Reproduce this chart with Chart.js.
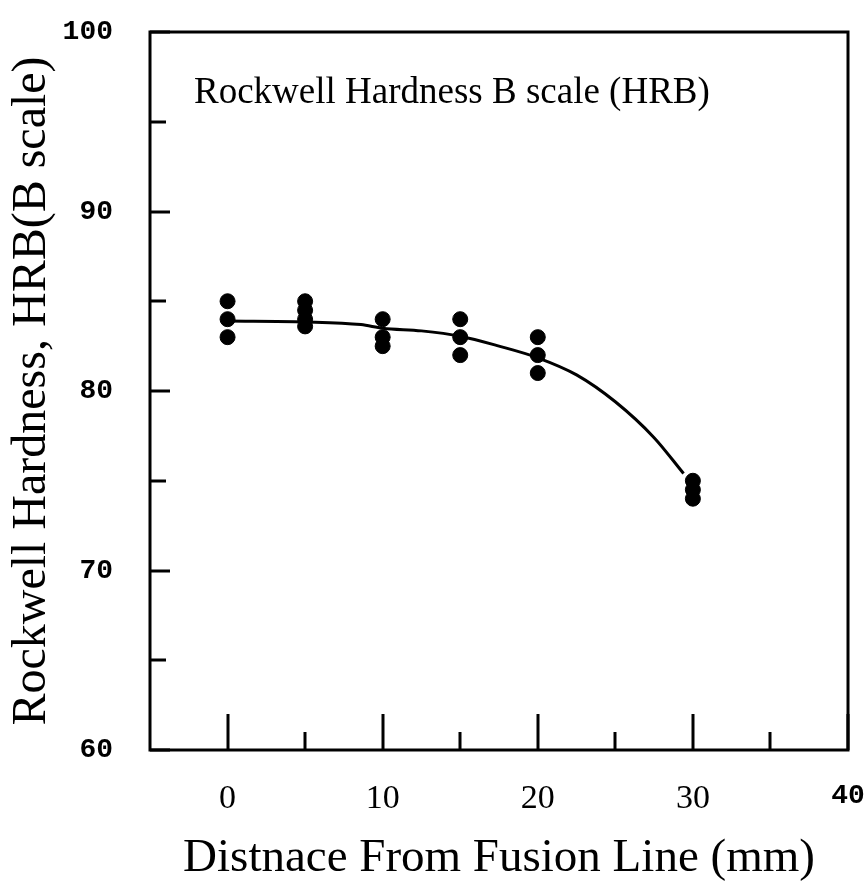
<!DOCTYPE html>
<html>
<head>
<meta charset="utf-8">
<title>Rockwell Hardness vs Distance</title>
<script src="https://cdn.jsdelivr.net/npm/chart.js@4.4.1/dist/chart.umd.min.js"></script>
<style>
  html, body { margin: 0; padding: 0; background: #fff; }
</style>
</head>
<body>
<canvas id="hardnessChart" width="865" height="882"></canvas>
<script>
// ---- data ----
const distances = [0, 5, 10, 15, 20, 30];           // mm from fusion line
const readings = [
    [85, 84, 83],          // 0 mm
    [85, 84.5, 84, 83.6],  // 5 mm
    [84, 83, 82.5],        // 10 mm
    [84, 83, 82],          // 15 mm
    [83, 82, 81],          // 20 mm
    [75, 74.5, 74]         // 30 mm
];

// hand-drawn trend line
const trendX = [0, 5, 8.6, 10, 12.5, 15, 17.5, 20, 22.5, 25, 27.5, 29.4];
const trendY = [83.9, 83.85, 83.7, 83.5, 83.35, 83.05, 82.5, 81.85, 80.9, 79.4, 77.4, 75.4];

// axis ticks
const xTickLabels = [0, 10, 20, 30, 40];
const xMinorTicks = [5, 15, 25, 35];
const yTickLabels = [60, 70, 80, 90, 100];
const yMinorTicks = [65, 75, 85, 95];

const annotationText = 'Rockwell Hardness B scale (HRB)';

const points = [];
distances.forEach((d, i) => {
    readings[i].forEach(v => points.push({ x: d, y: v }));
});
const trend = trendX.map((x, i) => ({ x: x, y: trendY[i] }));

/**
 * Box frame, inward ticks and the in-plot caption
 */
const framePlugin = {
    id: 'frame',
    afterDraw(chart) {
        const { ctx, chartArea: a, scales } = chart;
        ctx.save();
        ctx.strokeStyle = '#000';
        ctx.lineWidth = 3;
        ctx.strokeRect(a.left, a.top, a.right - a.left, a.bottom - a.top);

        // ticks pointing into the plot
        ctx.beginPath();
        xTickLabels.concat(xMinorTicks).forEach(v => {
            const len = xTickLabels.includes(v) ? 36 : 18;
            const px = Math.round(scales.x.getPixelForValue(v));
            ctx.moveTo(px, a.bottom);
            ctx.lineTo(px, a.bottom - len);
        });
        yTickLabels.concat(yMinorTicks).forEach(v => {
            const len = yTickLabels.includes(v) ? 20 : 16;
            const py = Math.round(scales.y.getPixelForValue(v));
            ctx.moveTo(a.left, py);
            ctx.lineTo(a.left + len, py);
        });
        ctx.stroke();

        // caption inside the plot
        ctx.fillStyle = '#000';
        ctx.font = '37px "Liberation Serif", serif';
        ctx.textBaseline = 'alphabetic';
        ctx.fillText(annotationText, a.left + 44, a.top + 71);
        ctx.restore();
    }
};

function initializeChart() {
    const ctx = document.getElementById('hardnessChart').getContext('2d');
    new Chart(ctx, {
        type: 'scatter',
        data: {
            datasets: [
                {
                    label: 'Trend',
                    data: trend,
                    showLine: true,
                    borderColor: '#000',
                    borderWidth: 3,
                    pointRadius: 0,
                    cubicInterpolationMode: 'monotone'
                },
                {
                    label: 'HRB',
                    data: points,
                    backgroundColor: '#000',
                    borderColor: '#000',
                    pointRadius: 7.5,
                    showLine: false
                }
            ]
        },
        options: {
            responsive: false,
            animation: false,
            layout: { padding: { top: 32, right: 17, left: 0, bottom: 0 } },
            plugins: {
                legend: { display: false },
                tooltip: { enabled: false }
            },
            scales: {
                x: {
                    type: 'linear',
                    min: -5,
                    max: 40,
                    afterBuildTicks: scale => {
                        scale.ticks = xTickLabels.map(v => ({ value: v }));
                    },
                    afterFit: scale => {
                        scale.height = 132;
                        scale.paddingLeft = 0;
                        scale.paddingRight = 0;
                    },
                    grid: { display: false, drawTicks: false },
                    border: { display: false },
                    ticks: {
                        padding: 29,
                        color: '#000',
                        font: ctx => ctx.tick && ctx.tick.value === 40
                            ? { family: '"Liberation Mono", monospace', size: 28, weight: 'bold' }
                            : { family: '"Liberation Serif", serif', size: 34 }
                    },
                    title: {
                        display: true,
                        text: 'Distnace From Fusion Line (mm)',
                        color: '#000',
                        font: { family: '"Liberation Serif", serif', size: 47, lineHeight: 1.0 },
                        padding: { top: 0, bottom: 0 }
                    }
                },
                y: {
                    type: 'linear',
                    min: 60,
                    max: 100,
                    afterBuildTicks: scale => {
                        scale.ticks = yTickLabels.map(v => ({ value: v }));
                    },
                    afterFit: scale => {
                        scale.width = 150;
                        scale.paddingTop = 0;
                        scale.paddingBottom = 0;
                    },
                    grid: { display: false, drawTicks: false },
                    border: { display: false },
                    ticks: {
                        padding: 37,
                        color: '#000',
                        font: { family: '"Liberation Mono", monospace', size: 28, weight: 'bold' }
                    },
                    title: {
                        display: true,
                        text: 'Rockwell Hardness, HRB(B scale)',
                        color: '#000',
                        font: { family: '"Liberation Serif", serif', size: 48, lineHeight: 1.0 },
                        padding: { top: 8, bottom: 0 }
                    }
                }
            }
        },
        plugins: [framePlugin]
    });
}

document.addEventListener('DOMContentLoaded', initializeChart);
</script>
</body>
</html>
